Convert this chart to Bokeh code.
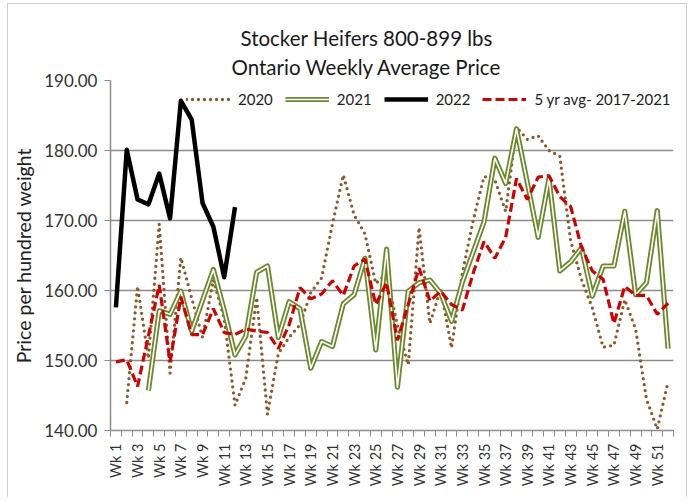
import numpy as np
from bokeh.plotting import figure
from bokeh.models import (ColumnDataSource, FixedTicker, NumeralTickFormatter, Legend,
                          LegendItem, Range1d, Title)
from bokeh.embed import file_html
from bokeh.resources import INLINE

weeks = list(range(1, 53))
week_labels = ["Wk %d" % w for w in weeks]

y2020 = [None, 144.0, 160.6, 150.3, 169.5, 148.2, 164.7, 158.9, 153.3, 161.5,
         156.0, 143.6, 147.5, 159.0, 142.3, 151.0, 153.3, 155.1, 159.7, 161.8,
         169.5, 176.5, 170.8, 168.1, 161.0, 162.4, 155.0, 149.4, 169.0, 155.3,
         160.2, 151.8, 162.5, 170.0, 176.3, 175.8, 171.3, 183.3, 181.6, 182.1,
         180.0, 179.2, 167.1, 161.6, 157.5, 151.9, 152.2, 158.7, 154.5, 144.5,
         140.2, 147.0]
y2021 = [None, None, None, 145.7, 157.1, 156.6, 159.9, 154.2, 158.6, 163.0,
         157.2, 150.8, 153.5, 162.6, 163.5, 153.3, 158.4, 157.4, 148.9, 152.7,
         152.0, 158.1, 159.4, 164.6, 151.5, 165.9, 146.2, 159.9, 161.1, 161.5,
         159.6, 155.6, 161.2, 165.5, 169.8, 178.9, 175.3, 183.1, 175.4, 167.6,
         176.0, 162.8, 164.1, 166.1, 159.2, 163.5, 163.5, 171.3, 159.4, 161.1,
         171.4, 151.7]
y2022 = [157.6, 180.1, 173.0, 172.3, 176.7, 170.3, 187.1, 184.4, 172.5, 169.1,
         161.9, 171.9] + [None] * 40
y5yr = [149.8, 150.1, 146.3, 153.5, 160.8, 149.8, 159.1, 153.7, 153.7, 157.4,
        154.0, 153.7, 154.5, 154.2, 154.0, 151.7, 155.1, 160.4, 158.8, 159.5,
        161.4, 159.3, 163.5, 164.5, 158.0, 161.1, 152.9, 158.0, 163.2, 158.5,
        159.9, 158.0, 157.2, 162.5, 167.0, 164.6, 167.6, 176.0, 173.0, 176.2,
        176.4, 173.4, 172.0, 166.2, 162.8, 161.6, 155.3, 160.6, 159.3, 159.3,
        156.6, 158.2]
y_ticks = [140, 150, 160, 170, 180, 190]

title1 = "Stocker Heifers 800-899 lbs"
title2 = "Ontario Weekly Average Price"
y_title = "Price per hundred weight"
names = ["2020", "2021", "2022", "5 yr avg- 2017-2021"]

src = ColumnDataSource(dict(
    wk=weeks,
    a=np.array(y2020, dtype=float),
    b=np.array(y2021, dtype=float),
    c=np.array(y2022, dtype=float),
    d=np.array(y5yr, dtype=float),
))

FONT = "Lato"
GRID = "#8c8c8c"

p = figure(width=680, height=494, output_backend="svg", toolbar_location=None,
           x_range=Range1d(0.5, 52.5), y_range=Range1d(140, 190),
           min_border_left=102, min_border_right=15, min_border_top=76,
           min_border_bottom=68, outline_line_color=None,
           styles={"margin": "3px 0px 0px 7px", "border": "1px solid #cfcfcf",
                   "border-bottom": "none"})

r20 = p.line("wk", "a", source=src, line_color="#8C5A28", line_width=3.3,
             line_dash="0 6", line_cap="round", line_join="round")
r21a = p.line("wk", "b", source=src, line_color="#6A8A2A", line_width=5.2,
              line_join="round")
r21b = p.line("wk", "b", source=src, line_color="white", line_width=1.6,
              line_join="round")
r22 = p.line("wk", "c", source=src, line_color="black", line_width=4.5,
             line_join="round")
r5 = p.line("wk", "d", source=src, line_color="#D40000", line_width=3.2,
            line_dash="9 4")

# axes
p.xgrid.grid_line_color = None
p.ygrid.ticker = FixedTicker(ticks=y_ticks)
p.ygrid.grid_line_color = GRID
p.ygrid.grid_line_width = 1.6

p.yaxis.ticker = FixedTicker(ticks=y_ticks)
p.yaxis.formatter = NumeralTickFormatter(format="0.00")
p.yaxis.axis_line_color = GRID
p.yaxis.axis_line_width = 1.5
p.yaxis.major_tick_line_color = GRID
p.yaxis.major_tick_out = 6
p.yaxis.major_tick_in = 0
p.yaxis.minor_tick_line_color = None
p.yaxis.major_label_standoff = 7
p.yaxis.major_label_text_font = FONT
p.yaxis.major_label_text_font_size = "17px"
p.yaxis.major_label_text_color = "#333333"
p.yaxis.axis_label = y_title
p.yaxis.axis_label_text_font = FONT
p.yaxis.axis_label_text_font_size = "19.5px"
p.yaxis.axis_label_text_font_style = "normal"
p.yaxis.axis_label_text_color = "#222222"
p.yaxis.axis_label_standoff = 6

odd = weeks[::2]
p.xaxis.ticker = FixedTicker(ticks=odd, minor_ticks=[w - 0.5 for w in weeks] + [52.5])
p.xaxis.major_label_overrides = {w: week_labels[w - 1] for w in odd}
p.xaxis.major_label_orientation = np.pi / 2
p.xaxis.major_tick_line_color = None
p.xaxis.minor_tick_line_color = GRID
p.xaxis.minor_tick_out = 6
p.xaxis.minor_tick_in = 0
p.xaxis.axis_line_color = GRID
p.xaxis.axis_line_width = 1.5
p.xaxis.major_label_standoff = 7
p.xaxis.major_label_text_font = FONT
p.xaxis.major_label_text_font_size = "14.5px"
p.xaxis.major_label_text_color = "#333333"

legend = Legend(items=[
    LegendItem(label=names[0], renderers=[r20]),
    LegendItem(label=names[1], renderers=[r21a, r21b]),
    LegendItem(label=names[2], renderers=[r22]),
    LegendItem(label=names[3], renderers=[r5]),
], orientation="horizontal", location=(76, 321), glyph_width=44, label_standoff=8,
    spacing=12, padding=5, margin=0, border_line_color=None,
    background_fill_alpha=0, label_text_font=FONT, label_text_font_size="15px",
    label_text_color="#222222")
p.add_layout(legend, "center")

p.add_layout(Title(text=title2, align="left", offset=121, standoff=3,
                   text_font=FONT, text_font_size="20.5px", text_font_style="normal",
                   text_color="#1a1a1a"), "above")
p.add_layout(Title(text=title1, align="left", offset=130, standoff=4,
                   text_font=FONT, text_font_size="20.5px", text_font_style="normal",
                   text_color="#1a1a1a"), "above")

open("out.html", "w").write(file_html(p, INLINE))
